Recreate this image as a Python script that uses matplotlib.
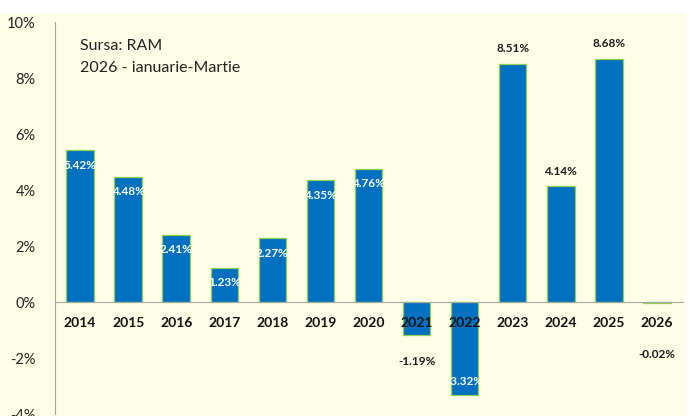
import matplotlib.pyplot as plt
from matplotlib.patches import Rectangle

years = ["2014", "2015", "2016", "2017", "2018", "2019", "2020",
         "2021", "2022", "2023", "2024", "2025", "2026"]
values = [5.42, 4.48, 2.41, 1.23, 2.27, 4.35, 4.76,
          -1.19, -3.32, 8.51, 4.14, 8.68, -0.02]
# where the value label sits: inside the bar end or outside it
label_inside = [True, True, True, True, True, True, True,
                False, True, False, False, False, False]
y_ticks = [-4, -2, 0, 2, 4, 6, 8, 10]
note_lines = ["Sursa: RAM", "2026 - ianuarie-Martie"]

BG = "#fefee6"
BLUE = "#0070c0"
EDGE = "#92d050"
FONT = ["Lato", "DejaVu Sans"]

plt.rcParams["font.family"] = FONT

fig = plt.figure(figsize=(6.89, 4.16), dpi=100)
fig.patch.set_facecolor("white")
fig.add_artist(Rectangle((0, 0), 0.994, 1 - 13 / 416, transform=fig.transFigure,
                         facecolor=BG, edgecolor="none", zorder=0))

ax = fig.add_axes([55 / 689, 2 / 416, (683 - 55) / 689, (414 - 22) / 416])
ax.patch.set_alpha(0)

x = list(range(len(years)))
ax.bar(x, values, width=0.57, color=BLUE, edgecolor=EDGE, linewidth=0.9, zorder=1)

ax.set_ylim(-4, 10)
ax.set_xlim(-0.52, 12.54)
ax.set_yticks(y_ticks)
ax.set_yticklabels([f"{t}%" for t in y_ticks], fontsize=10.5, color="#222222")
ax.tick_params(axis="y", length=0, pad=14)

ax.spines["top"].set_visible(False)
ax.spines["right"].set_visible(False)
ax.spines["left"].set_color("#a6a6a6")
ax.spines["bottom"].set_color("#a6a6a6")
ax.spines["bottom"].set_position(("data", 0))
ax.set_xticks(x)
ax.set_xticklabels(years, fontsize=10, fontweight="bold", color="#111111")
ax.tick_params(axis="x", length=0, pad=11)

# special offsets (px) for labels Excel pushed further below
extra_offset = {7: -14, 12: -40}

for i, (v, inside) in enumerate(zip(values, label_inside)):
    txt = f"{v:.2f}%"
    if inside:
        dy = -15 if v > 0 else 13
        color = "white"
    else:
        dy = 15 if v > 0 else -12
        color = "#1a1a1a"
    dy += extra_offset.get(i, 0)
    ax.annotate(txt, (i, v), xytext=(0, dy * 0.72), textcoords="offset points",
                ha="center", va="center", fontsize=8.5, fontweight="bold",
                color=color, zorder=4)

fig.text(80 / 689, 1 - 46 / 416, note_lines[0], fontsize=11.5, color="#222222",
         va="center")
fig.text(80 / 689, 1 - 68 / 416, note_lines[1], fontsize=11.5, color="#222222",
         va="center")

fig.savefig("out.png", dpi=100, facecolor="white")
